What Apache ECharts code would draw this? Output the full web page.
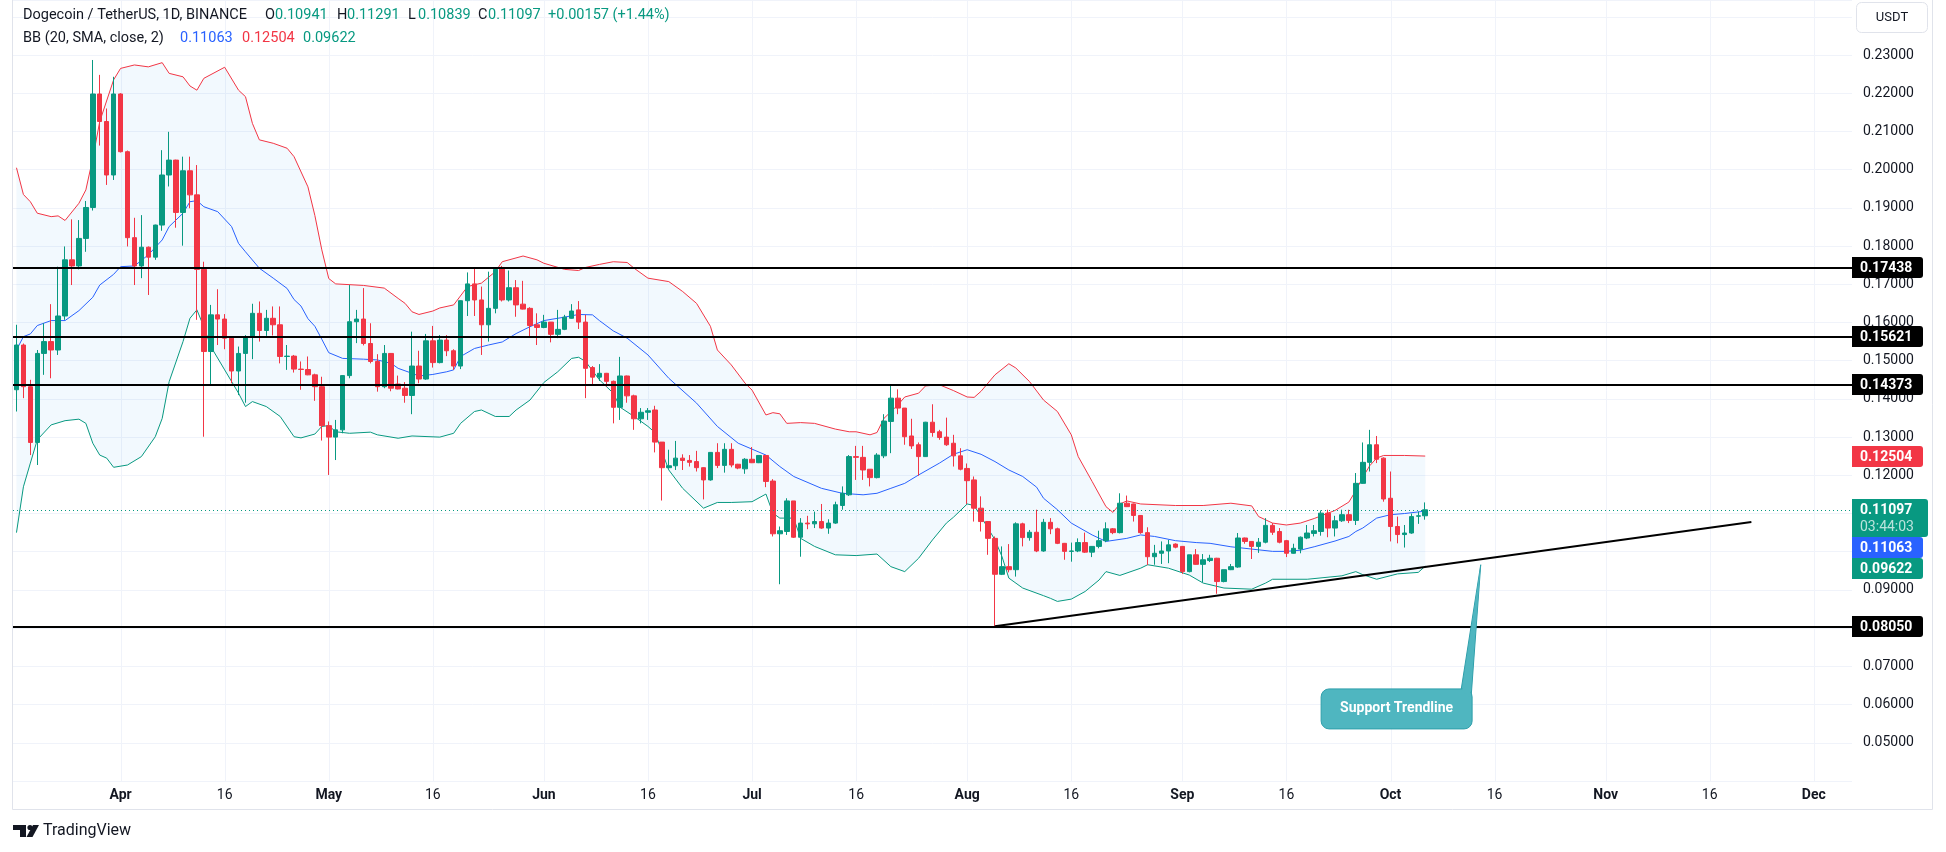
<!DOCTYPE html>
<html>
<head>
<meta charset="utf-8">
<title>DOGEUSDT 1D</title>
<script src="https://cdn.jsdelivr.net/npm/echarts/dist/echarts.min.js"></script>
<style>
  html, body { margin: 0; padding: 0; background: #ffffff; }
  #chart { width: 1946px; height: 852px; }
</style>
</head>
<body>
<div id="chart"></div>
<script>
  // daily candles from 2024-03-17, axis runs on to early December
  const startDay = '2024-03-17'
  const axisDays = 265

  const opens = [
    0.1424,0.1541,0.1432,0.1286,0.1519,0.1550,0.1528,0.1617,0.1764,0.1748,
    0.1820,0.1901,0.2198,0.2126,0.1986,0.2198,0.2047,0.1822,0.1748,0.1797,
    0.1771,0.1855,0.1986,0.2025,0.1888,0.1997,0.1934,0.1739,0.1524,0.1620,
    0.1609,0.1559,0.1473,0.1519,0.1563,0.1624,0.1579,0.1611,0.1594,0.1511,
    0.1512,0.1478,0.1477,0.1463,0.1432,0.1330,0.1300,0.1319,0.1461,0.1602,
    0.1609,0.1545,0.1498,0.1432,0.1519,0.1439,0.1428,0.1409,0.1486,0.1452,
    0.1552,0.1495,0.1554,0.1526,0.1486,0.1657,0.1701,0.1659,0.1594,0.1637,
    0.1744,0.1659,0.1691,0.1648,0.1637,0.1594,0.1587,0.1601,0.1569,0.1582,
    0.1611,0.1633,0.1601,0.1482,0.1457,0.1467,0.1446,0.1378,0.1460,0.1408,
    0.1348,0.1365,0.1371,0.1287,0.1220,0.1225,0.1245,0.1239,0.1236,0.1220,
    0.1188,0.1260,0.1226,0.1268,0.1229,0.1217,0.1242,0.1233,0.1252,0.1185,
    0.1047,0.1053,0.1133,0.1038,0.1075,0.1073,0.1079,0.1062,0.1075,0.1121,
    0.1149,0.1249,0.1247,0.1216,0.1194,0.1251,0.1341,0.1402,0.1376,0.1303,
    0.1280,0.1249,0.1339,0.1314,0.1300,0.1284,0.1251,0.1218,0.1188,0.1114,
    0.1079,0.1035,0.0941,0.0961,0.0953,0.1073,0.1037,0.1051,0.1002,0.1077,
    0.1060,0.1022,0.1001,0.1002,0.1024,0.0999,0.1014,0.1029,0.1060,0.1050,
    0.1127,0.1125,0.1095,0.1050,0.0987,0.0996,0.1002,0.1020,0.1014,0.0948,
    0.0992,0.0967,0.0977,0.0983,0.0922,0.0953,0.0960,0.1036,0.1027,0.1014,
    0.1025,0.1069,0.1053,0.1029,0.0996,0.1007,0.1036,0.1048,0.1053,0.1101,
    0.1062,0.1081,0.1097,0.1082,0.1179,0.1234,0.1280,0.1245,0.1140,0.1066,
    0.1045,0.1049,0.1093,0.10941
  ]
  const highs = [
    0.1594,0.1545,0.1450,0.1528,0.1598,0.1648,0.1746,0.1799,0.1870,0.1868,
    0.1918,0.2287,0.2248,0.2160,0.2243,0.2200,0.2050,0.1874,0.1881,0.1799,
    0.1856,0.2051,0.2099,0.2026,0.2034,0.2034,0.2012,0.1759,0.1646,0.1687,
    0.1622,0.1560,0.1537,0.1567,0.1649,0.1655,0.1633,0.1642,0.1642,0.1541,
    0.1515,0.1498,0.1511,0.1466,0.1458,0.1341,0.1345,0.1462,0.1698,0.1633,
    0.1690,0.1598,0.1517,0.1541,0.1520,0.1461,0.1444,0.1576,0.1526,0.1570,
    0.1591,0.1567,0.1567,0.1530,0.1658,0.1731,0.1744,0.1694,0.1733,0.1740,
    0.1748,0.1736,0.1711,0.1709,0.1640,0.1624,0.1620,0.1601,0.1633,0.1620,
    0.1648,0.1656,0.1620,0.1486,0.1491,0.1468,0.1448,0.1510,0.1461,0.1411,
    0.1376,0.1376,0.1382,0.1287,0.1267,0.1290,0.1255,0.1253,0.1264,0.1221,
    0.1261,0.1284,0.1284,0.1284,0.1230,0.1245,0.1274,0.1252,0.1252,0.1190,
    0.1066,0.1140,0.1133,0.1088,0.1094,0.1105,0.1125,0.1085,0.1131,0.1171,
    0.1253,0.1277,0.1277,0.1216,0.1258,0.1360,0.1437,0.1425,0.1376,0.1348,
    0.1286,0.1340,0.1386,0.1319,0.1351,0.1306,0.1271,0.1231,0.1197,0.1145,
    0.1080,0.1040,0.1014,0.1020,0.1077,0.1076,0.1057,0.1110,0.1086,0.1088,
    0.1063,0.1023,0.1024,0.1035,0.1050,0.1015,0.1055,0.1077,0.1062,0.1153,
    0.1147,0.1126,0.1096,0.1064,0.1018,0.1027,0.1031,0.1022,0.1015,0.0992,
    0.1007,0.0994,0.0992,0.0984,0.0953,0.0968,0.1049,0.1037,0.1028,0.1036,
    0.1088,0.1075,0.1062,0.1031,0.1021,0.1040,0.1070,0.1070,0.1108,0.1110,
    0.1094,0.1110,0.1110,0.1206,0.1286,0.1319,0.1303,0.1247,0.1210,0.1092,
    0.1070,0.1100,0.1105,0.11291
  ]
  const lows = [
    0.1367,0.1402,0.1253,0.1227,0.1463,0.1454,0.1515,0.1607,0.1698,0.1739,
    0.1785,0.1893,0.2063,0.1960,0.1973,0.2045,0.1799,0.1698,0.1716,0.1672,
    0.1764,0.1840,0.1956,0.1848,0.1801,0.1899,0.1607,0.1301,0.1437,0.1541,
    0.1530,0.1441,0.1410,0.1390,0.1504,0.1550,0.1565,0.1566,0.1493,0.1476,
    0.1469,0.1424,0.1462,0.1395,0.1291,0.1201,0.1240,0.1310,0.1454,0.1546,
    0.1540,0.1493,0.1419,0.1428,0.1420,0.1425,0.1390,0.1360,0.1441,0.1450,
    0.1482,0.1493,0.1512,0.1476,0.1478,0.1617,0.1617,0.1515,0.1550,0.1624,
    0.1655,0.1655,0.1615,0.1634,0.1563,0.1541,0.1585,0.1548,0.1559,0.1580,
    0.1610,0.1583,0.1402,0.1435,0.1447,0.1432,0.1336,0.1345,0.1390,0.1319,
    0.1336,0.1345,0.1260,0.1134,0.1218,0.1214,0.1214,0.1223,0.1210,0.1137,
    0.1186,0.1219,0.1207,0.1221,0.1216,0.1204,0.1232,0.1232,0.1169,0.1040,
    0.0915,0.1044,0.1036,0.0987,0.1059,0.1062,0.1060,0.1047,0.1073,0.1110,
    0.1146,0.1188,0.1188,0.1171,0.1192,0.1245,0.1258,0.1360,0.1280,0.1269,
    0.1199,0.1248,0.1301,0.1293,0.1277,0.1223,0.1213,0.1125,0.1079,0.1053,
    0.0992,0.0805,0.0939,0.0946,0.0935,0.1014,0.1029,0.0999,0.1000,0.1046,
    0.1020,0.0979,0.0974,0.0999,0.0997,0.0986,0.1009,0.1025,0.1046,0.1048,
    0.1117,0.1079,0.1047,0.0965,0.0966,0.0968,0.0970,0.1009,0.0942,0.0946,
    0.0966,0.0920,0.0973,0.0890,0.0920,0.0952,0.0958,0.1021,0.0981,0.0997,
    0.1022,0.1044,0.1022,0.0986,0.0995,0.0996,0.1033,0.1040,0.1042,0.1038,
    0.1040,0.1078,0.1075,0.1070,0.1178,0.1210,0.1232,0.1131,0.1027,0.1022,
    0.1011,0.1047,0.1073,0.10839
  ]
  const closes = [
    0.1541,0.1432,0.1286,0.1519,0.1550,0.1528,0.1617,0.1764,0.1748,0.1820,
    0.1901,0.2198,0.2126,0.1986,0.2198,0.2047,0.1822,0.1748,0.1797,0.1771,
    0.1855,0.1986,0.2025,0.1888,0.1997,0.1934,0.1739,0.1524,0.1620,0.1609,
    0.1559,0.1473,0.1519,0.1563,0.1624,0.1579,0.1611,0.1594,0.1511,0.1512,
    0.1478,0.1477,0.1463,0.1432,0.1330,0.1300,0.1319,0.1461,0.1602,0.1609,
    0.1545,0.1498,0.1432,0.1519,0.1428,0.1426,0.1409,0.1486,0.1452,0.1552,
    0.1495,0.1554,0.1526,0.1486,0.1657,0.1701,0.1659,0.1594,0.1637,0.1739,
    0.1659,0.1691,0.1646,0.1635,0.1592,0.1587,0.1601,0.1569,0.1582,0.1614,
    0.1630,0.1601,0.1480,0.1457,0.1467,0.1446,0.1378,0.1460,0.1408,0.1348,
    0.1365,0.1369,0.1287,0.1220,0.1225,0.1245,0.1239,0.1234,0.1220,0.1188,
    0.1260,0.1226,0.1268,0.1227,0.1219,0.1242,0.1233,0.1252,0.1184,0.1047,
    0.1055,0.1133,0.1038,0.1075,0.1073,0.1079,0.1062,0.1075,0.1123,0.1153,
    0.1249,0.1247,0.1214,0.1194,0.1253,0.1342,0.1402,0.1376,0.1301,0.1277,
    0.1249,0.1339,0.1312,0.1299,0.1280,0.1251,0.1216,0.1186,0.1114,0.1079,
    0.1035,0.0941,0.0961,0.0953,0.1073,0.1037,0.1051,0.1002,0.1077,0.1060,
    0.1022,0.1001,0.1002,0.1024,0.0999,0.1014,0.1029,0.1060,0.1050,0.1127,
    0.1118,0.1095,0.1050,0.0987,0.0996,0.1002,0.1018,0.1012,0.0948,0.0992,
    0.0967,0.0979,0.0983,0.0922,0.0953,0.0961,0.1036,0.1027,0.1014,0.1025,
    0.1069,0.1051,0.1025,0.0996,0.1009,0.1038,0.1049,0.1055,0.1101,0.1062,
    0.1081,0.1097,0.1082,0.1179,0.1234,0.1280,0.1242,0.1138,0.1066,0.1045,
    0.1049,0.1092,0.1094,0.11097
  ]

  // Bollinger bands: [day index from startDay, value]
  const bbUpper = [
    [0,0.2005],[1,0.1935],[2,0.1916],[3,0.1886],[5,0.1877],[6,0.1879],[7,0.1867],[9,0.1912],[10,0.1947],
    [11,0.2030],[12,0.2126],[14,0.2235],[15,0.2265],[17,0.2274],[19,0.2269],[21,0.2280],[22,0.2252],
    [24,0.2243],[25,0.2219],[26,0.2208],[27,0.2239],[30,0.2268],[32,0.2208],[33,0.2191],[34,0.2121],
    [35,0.2078],[37,0.2069],[39,0.2056],[40,0.2034],[42,0.1955],[43,0.1880],[44,0.1790],[45,0.1715],
    [46,0.1701],[50,0.1697],[53,0.1690],[55,0.1663],[56,0.1650],[57,0.1628],[58,0.1621],[60,0.1630],
    [61,0.1638],[63,0.1646],[65,0.1694],[67,0.1703],[69,0.1733],[70,0.1759],[73,0.1774],[75,0.1764],
    [76,0.1755],[79,0.1739],[81,0.1736],[82,0.1744],[84,0.1752],[86,0.1759],[88,0.1757],[89,0.1742],
    [91,0.1716],[94,0.1707],[96,0.1681],[98,0.1650],[100,0.1590],[101,0.1528],[103,0.1489],[105,0.1441],
    [106,0.1423],[108,0.1358],[109,0.1364],[110,0.1361],[111,0.1336],[113,0.1338],[115,0.1336],[118,0.1321],
    [120,0.1314],[121,0.1314],[123,0.1306],[124,0.1312],[125,0.1349],[127,0.1384],[128,0.1405],[130,0.1415],
    [131,0.1434],[133,0.1437],[135,0.1422],[137,0.1405],[138,0.1404],[139,0.1420],[141,0.1463],[143,0.1492],
    [144,0.1481],[146,0.1445],[148,0.1397],[150,0.1367],[152,0.1306],[153,0.1249],[155,0.1184],[157,0.1118],
    [158,0.1103],[159,0.1125],[160,0.1133],[162,0.1125],[167,0.1121],[171,0.1121],[175,0.1127],[178,0.1120],
    [179,0.1092],[181,0.1075],[183,0.1070],[185,0.1075],[187,0.1087],[190,0.1108],[192,0.1130],[193,0.1160],
    [194,0.1195],[195,0.1225],[196,0.1245],[197,0.1252],[200,0.1252],[203,0.12504]
  ]
  const bbBasis = [
    [0,0.1528],[1,0.1563],[2,0.1570],[3,0.1592],[5,0.1605],[7,0.1605],[9,0.1631],[11,0.1666],[12,0.1698],
    [14,0.1726],[15,0.1746],[17,0.1748],[19,0.1777],[21,0.1816],[22,0.1851],[24,0.1886],[25,0.1916],
    [26,0.1919],[27,0.1903],[29,0.1890],[31,0.1851],[32,0.1807],[33,0.1785],[35,0.1742],[37,0.1716],
    [39,0.1689],[40,0.1660],[41,0.1643],[42,0.1610],[43,0.1590],[44,0.1556],[45,0.1521],[47,0.1506],
    [50,0.1504],[52,0.1502],[54,0.1493],[55,0.1480],[57,0.1467],[58,0.1460],[60,0.1464],[62,0.1471],
    [63,0.1476],[64,0.1511],[66,0.1532],[68,0.1541],[70,0.1549],[72,0.1571],[74,0.1589],[76,0.1605],
    [79,0.1614],[81,0.1621],[83,0.1620],[84,0.1605],[86,0.1578],[88,0.1559],[91,0.1515],[94,0.1454],
    [98,0.1389],[101,0.1328],[104,0.1284],[108,0.1253],[110,0.1223],[112,0.1197],[116,0.1166],[119,0.1153],
    [122,0.1149],[124,0.1153],[126,0.1166],[128,0.1179],[130,0.1201],[133,0.1232],[135,0.1255],[137,0.1267],
    [139,0.1255],[141,0.1236],[143,0.1214],[145,0.1197],[147,0.1169],[148,0.1140],[150,0.1110],[152,0.1075],
    [155,0.1044],[157,0.1027],[160,0.1035],[162,0.1044],[164,0.1040],[167,0.1029],[170,0.1024],[172,0.1022],
    [175,0.1013],[179,0.1005],[181,0.1001],[183,0.1001],[185,0.1004],[187,0.1013],[190,0.1028],[192,0.1040],
    [193,0.1053],[194,0.1062],[196,0.1088],[198,0.1097],[200,0.1100],[203,0.11063]
  ]
  const bbLower = [
    [0,0.1050],[1,0.1170],[2,0.1232],[3,0.1293],[5,0.1332],[7,0.1343],[9,0.1347],[10,0.1336],[11,0.1284],
    [12,0.1253],[13,0.1245],[14,0.1221],[16,0.1227],[18,0.1249],[20,0.1301],[21,0.1349],[22,0.1445],
    [24,0.1550],[25,0.1611],[26,0.1633],[27,0.1589],[28,0.1537],[30,0.1476],[32,0.1415],[33,0.1380],
    [34,0.1393],[36,0.1380],[38,0.1354],[40,0.1301],[41,0.1298],[43,0.1308],[44,0.1328],[45,0.1330],
    [46,0.1314],[48,0.1310],[51,0.1313],[52,0.1306],[55,0.1297],[57,0.1303],[61,0.1300],[63,0.1310],
    [64,0.1336],[66,0.1367],[67,0.1371],[69,0.1354],[71,0.1354],[72,0.1371],[74,0.1397],[76,0.1443],
    [78,0.1471],[80,0.1506],[81,0.1509],[82,0.1498],[84,0.1450],[86,0.1415],[87,0.1378],[89,0.1354],
    [91,0.1328],[92,0.1312],[94,0.1214],[96,0.1166],[99,0.1114],[101,0.1129],[103,0.1129],[106,0.1131],
    [108,0.1151],[109,0.1101],[110,0.1088],[112,0.1088],[113,0.1035],[115,0.1014],[118,0.0992],[121,0.0990],
    [124,0.0994],[126,0.0961],[128,0.0948],[130,0.0983],[132,0.1031],[134,0.1075],[135,0.1090],[137,0.1125],
    [138,0.1121],[139,0.1092],[141,0.1031],[142,0.0988],[143,0.0931],[145,0.0905],[148,0.0885],[149,0.0878],
    [150,0.0870],[152,0.0876],[154,0.0896],[156,0.0926],[157,0.0948],[159,0.0938],[162,0.0957],[163,0.0966],
    [166,0.0957],[169,0.0939],[171,0.0918],[174,0.0905],[178,0.0902],[180,0.0918],[181,0.0928],[186,0.0928],
    [191,0.0937],[193,0.0948],[194,0.0940],[196,0.0928],[199,0.0942],[202,0.0946],[203,0.09622]
  ]

  const levels = [0.17438, 0.15621, 0.14373, 0.08050]
  const trendLine = [['2024-08-05', 0.0805], ['2024-11-22', 0.1078]]
  const lastPrice = 0.11097
  const countdown = '03:44:03'
  const lastBB = { basis: 0.11063, upper: 0.12504, lower: 0.09622 }
  const ohlcText = ['O', '0.10941', 'H', '0.11291', 'L', '0.10839', 'C', '0.11097']
  const changeText = '+0.00157 (+1.44%)'
  const callout = { text: 'Support Trendline', tip: ['2024-10-14', 0.0966], box: ['2024-09-21', 0.0641] }
  const monthNames = ['Jan','Feb','Mar','Apr','May','Jun','Jul','Aug','Sep','Oct','Nov','Dec']

  const UP = '#089981', DOWN = '#f23645', BLUE = '#2962ff', TXT = '#131722', GRIDC = '#f0f3fa'
  const FONT = 'Roboto'
  const GRID = { left: 13, right: 94, top: 0, bottom: 71 }

  const dates = []
  const t0 = Date.parse(startDay + 'T00:00:00Z')
  for (let i = 0; i < axisDays; i++) dates.push(new Date(t0 + i * 86400000).toISOString().slice(0, 10))
  const dayOf = d => dates.indexOf(d)
  const isTickDay = d => { const n = +d.slice(8); return n === 1 || n === 16 }
  const tickDays = dates.map((d, i) => i).filter(i => isTickDay(dates[i]))

  const candles = opens.map((o, i) => [o, closes[i], lows[i], highs[i]])

  let chart = echarts.init(document.getElementById('chart'), null, { renderer: 'canvas' })

  chart.setOption({
    animation: false,
    backgroundColor: '#ffffff',
    grid: GRID,
    xAxis: {
      type: 'category',
      data: dates,
      boundaryGap: true,
      axisLine: { show: false },
      axisTick: { show: false },
      splitLine: { show: false },
      axisLabel: {
        interval: (idx, val) => isTickDay(val),
        formatter: val => {
          const d = +val.slice(8)
          return d === 1 ? '{m|' + monthNames[+val.slice(5, 7) - 1] + '}' : String(d)
        },
        color: TXT, fontSize: 14, fontFamily: FONT, margin: 7,
        rich: { m: { fontWeight: 'bold', color: TXT, fontSize: 14, fontFamily: FONT } }
      }
    },
    yAxis: {
      type: 'value',
      position: 'right',
      min: 0.04,
      max: 0.2444,
      interval: 0.01,
      axisLine: { show: false },
      axisTick: { show: false },
      splitLine: { lineStyle: { color: GRIDC, width: 1 } },
      axisLabel: {
        margin: 11, color: TXT, fontSize: 14, fontFamily: FONT,
        formatter: v => (v < 0.045 || v > 0.235) ? '' : v.toFixed(5)
      }
    },
    series: [
      {
        // vertical grid at the labelled days
        type: 'custom',
        silent: true,
        z: 0,
        data: tickDays.map(i => [i, 0.1]),
        renderItem: (params, api) => {
          const x = Math.round(api.coord([api.value(0), 0.1])[0]) + 0.5
          const cs = params.coordSys
          return { type: 'line', shape: { x1: x, y1: cs.y, x2: x, y2: cs.y + cs.height },
                   style: { stroke: GRIDC, lineWidth: 1 } }
        }
      },
      {
        // band fill
        type: 'custom',
        silent: true,
        z: 1,
        data: [[0, 0.1]],
        renderItem: (params, api) => {
          const pts = bbUpper.map(p => api.coord(p))
            .concat(bbLower.slice().reverse().map(p => api.coord(p)))
          return { type: 'polygon', shape: { points: pts }, style: { fill: 'rgba(33,150,243,0.06)' } }
        }
      },
      { name: 'Upper', type: 'line', z: 2, data: bbUpper, showSymbol: false, silent: true,
        lineStyle: { color: DOWN, width: 1 } },
      { name: 'Basis', type: 'line', z: 2, data: bbBasis, showSymbol: false, silent: true,
        lineStyle: { color: BLUE, width: 1 } },
      { name: 'Lower', type: 'line', z: 2, data: bbLower, showSymbol: false, silent: true,
        lineStyle: { color: UP, width: 1 } },
      {
        name: 'DOGEUSDT',
        type: 'candlestick',
        z: 3,
        barWidth: 5,
        data: candles,
        itemStyle: { color: UP, color0: DOWN, borderColor: UP, borderColor0: DOWN, borderWidth: 1 },
        markLine: {
          silent: true,
          precision: 5,
          symbol: ['none', 'none'],
          label: { show: false },
          data: levels.map(v => ({ yAxis: v, lineStyle: { color: '#000000', width: 2, type: 'solid' } }))
            .concat([
              { yAxis: lastPrice, lineStyle: { color: UP, width: 1, type: [1, 3] } },
              [
                { coord: [dayOf(trendLine[0][0]), trendLine[0][1]], lineStyle: { color: '#000000', width: 2, type: 'solid' } },
                { coord: [dayOf(trendLine[1][0]), trendLine[1][1]] }
              ]
            ])
        }
      }
    ],
    graphic: []
  })

  // price tags on the scale, stacked downwards when they would overlap
  function priceTags() {
    const x = chart.getWidth() - GRID.right
    const tags = levels.map(v => ({ v: v, bg: '#000000', lines: [v.toFixed(5)] }))
    tags.push({ v: lastBB.upper, bg: DOWN, lines: [lastBB.upper.toFixed(5)] })
    tags.push({ v: lastPrice, bg: UP, lines: [lastPrice.toFixed(5), countdown], w: 76 })
    tags.push({ v: lastBB.basis, bg: BLUE, lines: [lastBB.basis.toFixed(5)] })
    tags.push({ v: lastBB.lower, bg: UP, lines: [lastBB.lower.toFixed(5)] })
    tags.forEach(t => {
      t.y = chart.convertToPixel({ yAxisIndex: 0 }, t.v)
      t.h = t.lines.length > 1 ? 38 : 21
      t.top = t.y - 10.5
    })
    tags.sort((a, b) => a.y - b.y)
    let bottom = -Infinity
    tags.forEach(t => { t.top = Math.max(t.top, bottom); bottom = t.top + t.h })
    const out = []
    tags.forEach(t => {
      const top = Math.round(t.top)
      out.push({ type: 'rect', z: 50, shape: { x: x, y: top, width: t.w || 71, height: t.h, r: [0, 3, 3, 0] },
                 style: { fill: t.bg } })
      t.lines.forEach((s, k) => out.push({
        type: 'text', z: 51, x: x + 8, y: top + 11 + k * 17,
        style: { text: s, fill: k === 0 ? '#ffffff' : 'rgba(255,255,255,0.72)', fontSize: 14,
                 fontWeight: k === 0 ? 'bold' : 'normal', fontFamily: FONT, verticalAlign: 'middle' }
      }))
    })
    return out
  }

  function calloutGraphic() {
    const tip = chart.convertToPixel({ gridIndex: 0 }, [dayOf(callout.tip[0]), callout.tip[1]])
    const box = chart.convertToPixel({ gridIndex: 0 }, [dayOf(callout.box[0]), callout.box[1]])
    const w = 151, h = 40, fill = '#4fb6c0', edge = '#2e9fab'
    const tail = [[box[0] + w - 11, box[1] + 1], tip, [box[0] + w - 1, box[1] + 8]]
    return [
      { type: 'polygon', z: 60, shape: { points: tail }, style: { fill: fill, stroke: edge, lineWidth: 1 } },
      { type: 'rect', z: 60, shape: { x: box[0], y: box[1], width: w, height: h, r: 8 },
        style: { fill: fill, stroke: edge, lineWidth: 1 } },
      { type: 'polygon', z: 61, shape: { points: [[box[0] + w - 10, box[1] + 2], tip, [box[0] + w - 2, box[1] + 8]] },
        style: { fill: fill } },
      { type: 'text', z: 62, x: box[0] + w / 2, y: box[1] + h / 2,
        style: { text: callout.text, fill: '#ffffff', fontSize: 14, fontWeight: 'bold', fontFamily: FONT,
                 align: 'center', verticalAlign: 'middle' } }
    ]
  }

  function legendText(x, y, text, color) {
    return { type: 'text', z: 70, x: x, y: y,
             style: { text: text, fill: color, fontSize: 14.5, fontFamily: FONT, verticalAlign: 'middle' } }
  }

  function header() {
    const out = [legendText(23, 15, 'Dogecoin / TetherUS, 1D, BINANCE', TXT)]
    const slotX = [265, 337, 408, 478]
    slotX.forEach((x, k) => {
      out.push(legendText(x, 15, ohlcText[k * 2], TXT))
      out.push(legendText(x + 10, 15, ohlcText[k * 2 + 1], UP))
    })
    out.push(legendText(548, 15, changeText, UP))
    out.push(legendText(23, 38, 'BB (20, SMA, close, 2)', TXT))
    out.push(legendText(180, 38, lastBB.basis.toFixed(5), BLUE))
    out.push(legendText(242, 38, lastBB.upper.toFixed(5), DOWN))
    out.push(legendText(303, 38, lastBB.lower.toFixed(5), UP))
    return out
  }

  const chrome = [
    // USDT button
    { type: 'rect', z: 70, shape: { x: 1856.5, y: 2.5, width: 71, height: 30, r: 5 },
      style: { fill: '#ffffff', stroke: '#e0e3eb', lineWidth: 1 } },
    { type: 'text', z: 71, x: 1892, y: 18,
      style: { text: 'USDT', fontSize: 13, fontFamily: FONT, fill: TXT, align: 'center', verticalAlign: 'middle' } },
    // frame
    { type: 'polyline', z: 40, shape: { points: [[12.5, 0], [12.5, 809.5], [1932.5, 809.5], [1932.5, 0]] },
      style: { stroke: '#e0e3eb', lineWidth: 1, fill: null } },
    // footer logo
    { type: 'rect', z: 70, shape: { x: 13, y: 825, width: 13, height: 5 }, style: { fill: TXT } },
    { type: 'rect', z: 70, shape: { x: 20, y: 825, width: 6, height: 12 }, style: { fill: TXT } },
    { type: 'circle', z: 70, shape: { cx: 30, cy: 827.5, r: 2.6 }, style: { fill: TXT } },
    { type: 'polygon', z: 70, shape: { points: [[33, 825], [39, 825], [32.5, 837], [26.5, 837]] }, style: { fill: TXT } },
    { type: 'text', z: 70, x: 43, y: 831,
      style: { text: 'TradingView', fontSize: 16, fontFamily: FONT, fill: TXT, verticalAlign: 'middle' } }
  ]

  chart.setOption({ graphic: header().concat(chrome, priceTags(), calloutGraphic()) })
</script>
</body>
</html>
